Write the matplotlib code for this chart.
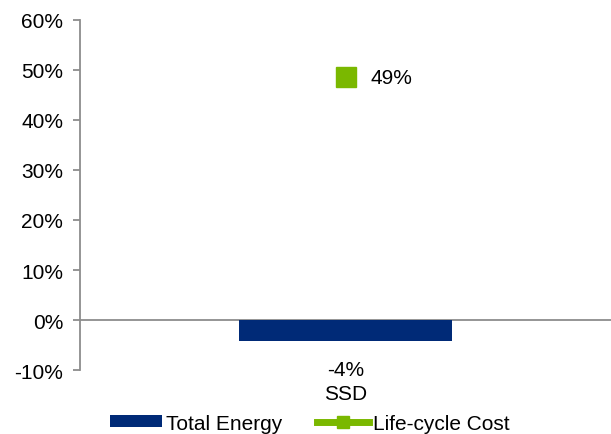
import matplotlib.pyplot as plt
from matplotlib.lines import Line2D
from matplotlib.patches import Patch
import numpy as np

plt.rcParams['font.family'] = ['Liberation Sans', 'DejaVu Sans']

categories = ["SSD"]
total_energy = [-4.2]
lifecycle_cost = [48.5]
energy_labels = ["-4%"]
cost_labels = ["49%"]

navy = "#002A77"
green = "#7AB800"
grey = "#8C8C8C"
fs = 15

fig = plt.figure(figsize=(6.11, 4.35), dpi=100)
ax = fig.add_axes([0.131, 0.147, 0.869, 0.805])

x = np.arange(len(categories))
ax.bar(x, total_energy, width=0.4, color=navy, zorder=2)
ax.plot(x, lifecycle_cost, linestyle="none", marker="s", markersize=14,
        color=green, zorder=3)

for xi, v, lab in zip(x, total_energy, energy_labels):
    ax.annotate(lab, (xi, v), xytext=(0, -14), textcoords="offset points",
                ha="center", va="top", fontsize=fs)
for xi, v, lab in zip(x, lifecycle_cost, cost_labels):
    ax.annotate(lab, (xi, v), xytext=(18, 0), textcoords="offset points",
                ha="left", va="center", fontsize=fs)

ax.set_xlim(-0.5, 0.5)
ax.set_ylim(-10, 60)
ax.set_yticks(np.arange(-10, 61, 10))
ax.set_yticklabels([f"{t}%" for t in range(-10, 61, 10)])
ax.axhline(0, color=grey, linewidth=1.3, zorder=1)

ax.set_xticks(x)
ax.set_xticklabels(categories)
ax.tick_params(axis="x", length=0, pad=10, labelsize=fs)
ax.tick_params(axis="y", length=5, width=1.3, color=grey, labelsize=fs, pad=7)

for s in ["top", "right", "bottom"]:
    ax.spines[s].set_visible(False)
ax.spines["left"].set_color(grey)
ax.spines["left"].set_linewidth(1.3)

handles = [Patch(facecolor=navy, label="Total Energy"),
           Line2D([0], [0], color=green, linewidth=5, marker="s",
                  markersize=9, label="Life-cycle Cost")]
fig.legend(handles=handles, loc="lower center", bbox_to_anchor=(0.507, -0.04),
           ncol=2, frameon=False, fontsize=fs, handlelength=2.5,
           handleheight=0.5, handletextpad=0.2, columnspacing=1.65)

fig.savefig("out.png", dpi=100)
